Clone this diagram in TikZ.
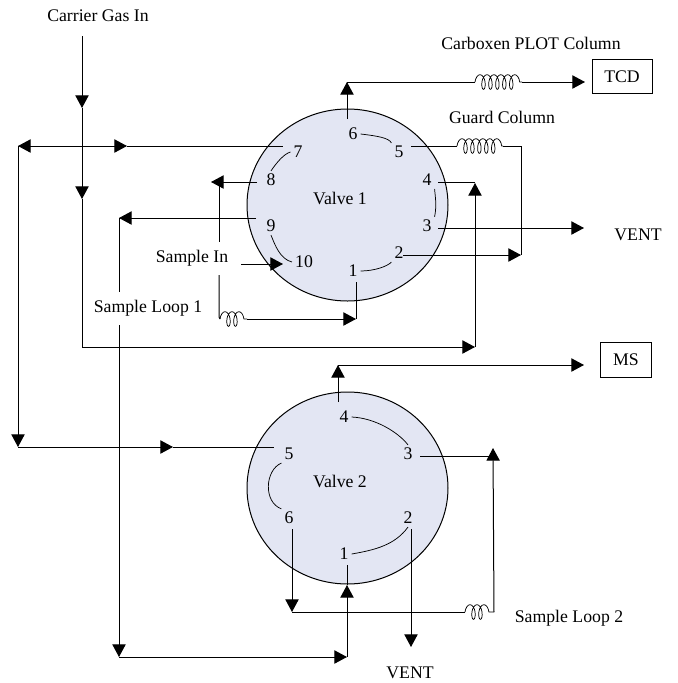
\documentclass[tikz,border=0pt]{standalone}
\usepackage{fontspec}
\setmainfont{Liberation Serif}
\usetikzlibrary{arrows.meta,shapes.geometric,decorations.pathmorphing}
\definecolor{valvefill}{HTML}{E3E6F3}
\begin{document}
\begin{tikzpicture}[x=0.75pt, y=-0.75pt, line cap=butt, line width=0.75pt,
        >={Triangle[length=9.5pt,width=10pt]},
        font=\fontsize{13.3}{15}\selectfont,
        valvedisc/.style={ellipse, draw, fill=valvefill, inner sep=0pt, minimum width=150.75pt, minimum height=144pt},
        portnum/.style={inner sep=2pt},
        instr/.style={rectangle, draw, inner sep=0pt, minimum width=45pt, minimum height=26pt},
        jumper/.style={line width=0.55pt},
        coilpath/.style={line width=0.55pt, decorate, decoration={coil, aspect=0.45, amplitude=5.5pt, segment length=#1, pre length=0pt, post length=0pt}}]
        \useasboundingbox (0,0) rectangle (678,683);

        % ---- valve bodies ----
        \node[valvedisc] (valveone) at (347.5,205) {};
        \node[valvedisc] (valvetwo) at (347.5,488) {};
        \node (valveonelab) at (340,198) {Valve 1};
        \node (valvetwolab) at (340,481) {Valve 2};

        % ---- detectors ----
        \node[instr] (tcd) at (622,76.5) {TCD};
        \node[instr, minimum width=38pt] (ms) at (626,360) {MS};

        % ---- labels ----
        \node (carrier) at (98,16) {Carrier Gas In};
        \node (carboxen) at (531,43) {Carboxen PLOT Column};
        \node (guard) at (502,117) {Guard Column};
        \node (ventone) at (638,235) {VENT};
        \node (samplein) at (192,258) {Sample In};
        \node (loopone) at (148,308) {Sample Loop 1};
        \node (looptwo) at (569,618) {Sample Loop 2};
        \node (venttwo) at (410,673) {VENT};

        % ---- ports of valve 1 ----
        \node[portnum] (a1) at (353,271) {1};
        \node[portnum] (a2) at (399,253) {2};
        \node[portnum] (a3) at (427,226) {3};
        \node[portnum] (a4) at (427,180) {4};
        \node[portnum] (a5) at (399,152) {5};
        \node[portnum] (a6) at (353,134) {6};
        \node[portnum] (a7) at (298,152) {7};
        \node[portnum] (a8) at (271,180) {8};
        \node[portnum] (a9) at (271,226) {9};
        \node[portnum] (a10) at (304,262) {10};

        % ---- ports of valve 2 ----
        \node[portnum] (b1) at (344,554) {1};
        \node[portnum] (b2) at (408,518) {2};
        \node[portnum] (b3) at (408,454) {3};
        \node[portnum] (b4) at (344,417) {4};
        \node[portnum] (b5) at (289,454) {5};
        \node[portnum] (b6) at (289,518) {6};

        % ---- jumpers inside the valves ----
        \draw[jumper] (a6.east) .. controls (378,136) and (389,138) .. (a5.north west);
        \draw[jumper] (a7.west) .. controls (284,154) and (277,162) .. (a8.north);
        \draw[jumper] (a4.south east) .. controls (435,195) and (437,205) .. (a3.north east);
        \draw[jumper] (a9.south) .. controls (275,245) and (280,259) .. (a10.west);
        \draw[jumper] (a1.east) .. controls (375,271) and (388,266) .. (a2.south west);
        \draw[jumper] (b4.east) .. controls (375,418) and (398,432) .. (b3.north);
        \draw[jumper] (b5.south west) .. controls (265,470) and (263,502) .. (b6.north west);
        \draw[jumper] (b1.east) .. controls (375,550) and (395,545) .. (b2.south);

        % ---- corners and free ends ----
        \coordinate (topone) at (347,82);
        \coordinate (coilaa) at (475,82);
        \coordinate (coilab) at (522,82);
        \coordinate (tcdin) at (585,82);
        \coordinate (coilba) at (457,146);
        \coordinate (coilbb) at (503,146);
        \coordinate (guardcorner) at (521,146);
        \coordinate (guardin) at (521,255);
        \coordinate (gasstart) at (82,36);
        \coordinate (gasmida) at (82,108);
        \coordinate (gasmidb) at (82,199);
        \coordinate (gascorner) at (82,347);
        \coordinate (fourcorner) at (475,347);
        \coordinate (fourin) at (475,183);
        \coordinate (fourout) at (475,182);
        \coordinate (splitmid) at (82,146);
        \coordinate (splitleft) at (18,146);
        \coordinate (splitright) at (127,146);
        \coordinate (splitlow) at (18,447);
        \coordinate (splitin) at (173,447);
        \coordinate (eightmid) at (219,182);
        \coordinate (eighttip) at (211,182);
        \coordinate (eightgapa) at (219,242);
        \coordinate (eightgapb) at (219,275);
        \coordinate (eightlow) at (219,312);
        \coordinate (coilca) at (220,319);
        \coordinate (coilcb) at (247,319);
        \coordinate (loopcorner) at (356,319);
        \coordinate (nineleft) at (119,218);
        \coordinate (ninegapa) at (119,292);
        \coordinate (ninegapb) at (119,325);
        \coordinate (ninelow) at (119,657);
        \coordinate (onecorner) at (347,657);
        \coordinate (onetip) at (347,585);
        \coordinate (ventonetip) at (584,228);
        \coordinate (topotwo) at (338,365);
        \coordinate (msin) at (584,365);
        \coordinate (threetip) at (493,448);
        \coordinate (threejoin) at (493,456);
        \coordinate (coilda) at (465,612);
        \coordinate (coildb) at (494,612);
        \coordinate (sixlow) at (292,612);
        \coordinate (venttip) at (411,647);

        % ---- stubs at the ports, valve 1 ----
        \coordinate (aout1) at (356,282);
        \coordinate (aout2) at (403,255);
        \coordinate (aout3) at (438,228);
        \coordinate (aout4) at (438,182);
        \coordinate (aout5) at (411,146);
        \coordinate (aout6) at (347,119);
        \coordinate (aout7) at (283,146);
        \coordinate (aout8) at (257,182);
        \coordinate (aout9) at (256,218);
        \coordinate (ain10) at (283,264);
        \coordinate (ainstart) at (241,264);

        % ---- stubs at the ports, valve 2 ----
        \coordinate (bout1) at (347,565);
        \coordinate (bout2) at (411,529);
        \coordinate (bout3) at (420,456);
        \coordinate (bout4) at (338,402);
        \coordinate (bout5) at (274,447);
        \coordinate (bout6) at (292,529);

        % ---- valve 1 to the TCD ----
        \draw[->] (aout6) -- (topone);
        \draw (topone) -- (coilaa);
        \draw[coilpath=5.2pt] (coilaa) -- (coilab);
        \draw[->] (coilab) -- (tcdin);

        % ---- guard column ----
        \draw (aout5) -- (coilba);
        \draw[coilpath=5.2pt] (coilba) -- (coilbb);
        \draw (coilbb) -- (guardcorner) -- (guardin);
        \draw[->] (aout2) -- (guardin);

        % ---- carrier gas ----
        \draw[->] (gasstart) -- (gasmida);
        \draw[->] (gasmida) -- (gasmidb);
        \draw (gasmidb) -- (gascorner);
        \draw[->] (gascorner) -- (fourcorner);
        \draw[->] (fourcorner) -- (fourin);
        \draw (fourout) -- (aout4);

        % ---- port 7 over to port 5 of valve 2 ----
        \draw[->] (splitmid) -- (splitleft);
        \draw[->] (splitmid) -- (splitright);
        \draw (splitright) -- (aout7);
        \draw[->] (splitleft) -- (splitlow);
        \draw[->] (splitlow) -- (splitin);
        \draw (splitin) -- (bout5);

        % ---- sample loop 1 ----
        \draw[->] (aout8) -- (eighttip);
        \draw (eightmid) -- (eightgapa);
        \draw (eightgapb) -- (eightlow) .. controls (219,317) and (219,319) .. (coilca);
        \draw[coilpath=5.2pt] (coilca) -- (coilcb);
        \draw[->] (coilcb) -- (loopcorner);
        \draw (loopcorner) -- (aout1);
        \draw[->] (ainstart) -- (ain10);

        % ---- port 9 over to port 1 of valve 2 ----
        \draw[->] (aout9) -- (nineleft);
        \draw (nineleft) -- (ninegapa);
        \draw[->] (ninegapb) -- (ninelow);
        \draw[->] (ninelow) -- (onecorner);
        \draw[->] (onecorner) -- (onetip);
        \draw (onetip) -- (bout1);

        % ---- vents and the MS ----
        \draw[->] (aout3) -- (ventonetip);
        \draw[->] (bout2) -- (venttip);
        \draw[->] (bout4) -- (topotwo);
        \draw[->] (topotwo) -- (msin);

        % ---- sample loop 2 ----
        \draw[->] (bout6) -- (sixlow);
        \draw (sixlow) -- (coilda);
        \draw[coilpath=5.2pt] (coilda) -- (coildb);
        \draw[->] (coildb) -- (threetip);
        \draw (threejoin) -- (bout3);
\end{tikzpicture}
\end{document}
